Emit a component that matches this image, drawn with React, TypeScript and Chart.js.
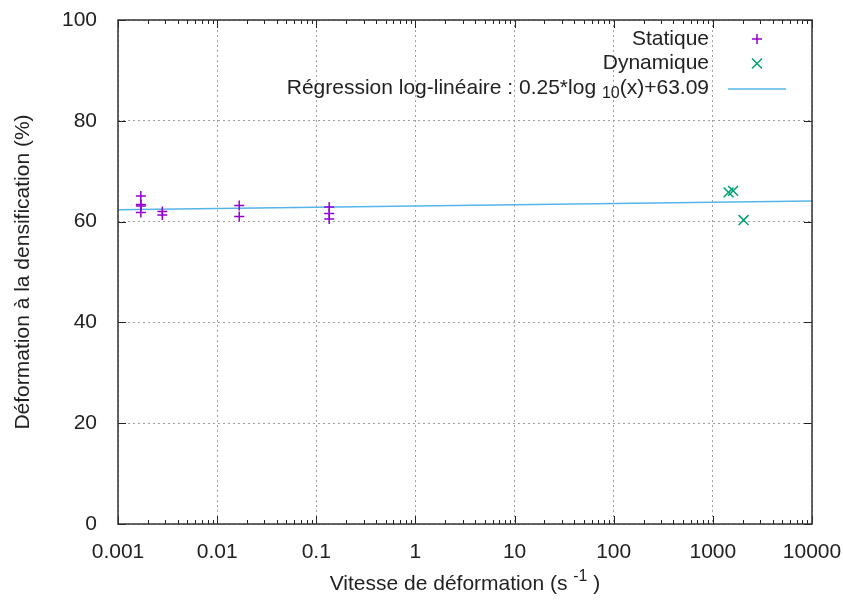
import React, { useEffect, useRef } from "react";
import { Chart, registerables } from "chart.js";
Chart.register(...registerables);

const statiqueX = [0.0017, 0.0017, 0.0017, 0.0017, 0.0028, 0.0028, 0.0167, 0.0167, 0.135, 0.135, 0.135];
const statiqueY = [65.1, 63.4, 63.1, 61.8, 62.0, 61.3, 63.2, 61.0, 62.9, 61.6, 60.5];
const dynamiqueX = [1440, 1600, 2040];
const dynamiqueY = [65.8, 66.1, 60.3];
const regressionX = [0.001, 10000];
const regressionY = [62.34, 64.09];
const xTickValues = [0.001, 0.01, 0.1, 1, 10, 100, 1000, 10000];
const xTickLabels = ["0.001", "0.01", "0.1", "1", "10", "100", "1000", "10000"];
const yTickValues = [0, 20, 40, 60, 80, 100];
const legendLabels = ["Statique", "Dynamique"];
const regressionLabelParts = ["Régression log-linéaire : 0.25*log ", "10", "(x)+63.09"];
const xTitleParts = ["Vitesse de déformation (s ", "-1", " )"];
const yTitle = "Déformation à la densification (%)";

const FONT = "'Liberation Sans', Arial, sans-serif";
const FS = 21;
const FSS = 16;
const TXT = "#222";
const C_STAT = "#9400d3";
const C_DYN = "#009e73";
const C_REG = "#56b4e9";

const decorPlugin = {
  id: "decor",
  afterDraw(chart: any) {
    const ctx = chart.ctx;
    const { left, right, top, bottom } = chart.chartArea;
    const xs = chart.scales.x;
    const ys = chart.scales.y;
    ctx.save();
    // ticks
    ctx.strokeStyle = "#222";
    ctx.lineWidth = 1;
    ctx.beginPath();
    for (const v of yTickValues) {
      const y = Math.round(ys.getPixelForValue(v)) + 0.5;
      ctx.moveTo(left, y); ctx.lineTo(left + 8, y);
      ctx.moveTo(right, y); ctx.lineTo(right - 8, y);
    }
    for (let i = 0; i < xTickValues.length; i++) {
      const v = xTickValues[i];
      const x = Math.round(xs.getPixelForValue(v)) + 0.5;
      ctx.moveTo(x, bottom); ctx.lineTo(x, bottom - 8);
      ctx.moveTo(x, top); ctx.lineTo(x, top + 8);
      if (i < xTickValues.length - 1) {
        for (let m = 2; m <= 9; m++) {
          const xm = Math.round(xs.getPixelForValue(v * m)) + 0.5;
          ctx.moveTo(xm, bottom); ctx.lineTo(xm, bottom - 4);
          ctx.moveTo(xm, top); ctx.lineTo(xm, top + 4);
        }
      }
    }
    ctx.stroke();
    // frame
    ctx.strokeStyle = "#333";
    ctx.lineWidth = 1.5;
    ctx.strokeRect(left, top, right - left, bottom - top);

    // legend
    ctx.fillStyle = TXT;
    ctx.textBaseline = "middle";
    ctx.font = FS + "px " + FONT;
    const tx = 709;
    const rows = [39, 63.5, 88];
    ctx.textAlign = "right";
    ctx.fillText(legendLabels[0], tx, rows[0]);
    ctx.fillText(legendLabels[1], tx, rows[1]);
    ctx.textAlign = "left";
    const wA = ctx.measureText(regressionLabelParts[0]).width;
    const wC = ctx.measureText(regressionLabelParts[2]).width;
    ctx.font = FSS + "px " + FONT;
    const wB = ctx.measureText(regressionLabelParts[1]).width;
    let sx = tx - (wA + wB + wC);
    ctx.font = FS + "px " + FONT;
    ctx.fillText(regressionLabelParts[0], sx, rows[2]);
    sx += wA;
    ctx.font = FSS + "px " + FONT;
    ctx.fillText(regressionLabelParts[1], sx, rows[2] + 6);
    sx += wB;
    ctx.font = FS + "px " + FONT;
    ctx.fillText(regressionLabelParts[2], sx, rows[2]);
    // legend samples
    const mx = 757;
    ctx.lineWidth = 1.5;
    ctx.strokeStyle = C_STAT;
    ctx.beginPath();
    ctx.moveTo(mx - 5, rows[0]); ctx.lineTo(mx + 5, rows[0]);
    ctx.moveTo(mx, rows[0] - 5); ctx.lineTo(mx, rows[0] + 5);
    ctx.stroke();
    ctx.strokeStyle = C_DYN;
    ctx.beginPath();
    ctx.moveTo(mx - 5, rows[1] - 5); ctx.lineTo(mx + 5, rows[1] + 5);
    ctx.moveTo(mx - 5, rows[1] + 5); ctx.lineTo(mx + 5, rows[1] - 5);
    ctx.stroke();
    ctx.strokeStyle = C_REG;
    ctx.beginPath();
    ctx.moveTo(728, rows[2] + 1); ctx.lineTo(786, rows[2] + 1);
    ctx.stroke();

    // x title
    ctx.fillStyle = TXT;
    ctx.font = FS + "px " + FONT;
    const a = ctx.measureText(xTitleParts[0]).width;
    const c = ctx.measureText(xTitleParts[2]).width;
    ctx.font = FSS + "px " + FONT;
    const b = ctx.measureText(xTitleParts[1]).width;
    let px = (left + right) / 2 - (a + b + c) / 2;
    const py = 584;
    ctx.font = FS + "px " + FONT;
    ctx.fillText(xTitleParts[0], px, py);
    px += a;
    ctx.font = FSS + "px " + FONT;
    ctx.fillText(xTitleParts[1], px, py - 7);
    px += b;
    ctx.font = FS + "px " + FONT;
    ctx.fillText(xTitleParts[2], px, py);

    // y title
    ctx.save();
    ctx.translate(23, (top + bottom) / 2);
    ctx.rotate(-Math.PI / 2);
    ctx.textAlign = "center";
    ctx.font = FS + "px " + FONT;
    ctx.fillText(yTitle, 0, 0);
    ctx.restore();
    ctx.restore();
  },
};

export default function App() {
  const ref = useRef<HTMLCanvasElement>(null);
  useEffect(() => {
    document.body.style.margin = "0";
    const canvas = ref.current!;
    const zeroPad = (s: any) => {
      s.paddingTop = 0;
      s.paddingBottom = 0;
      s.paddingLeft = 0;
      s.paddingRight = 0;
    };
    const chart = new Chart(canvas, {
      type: "scatter",
      data: {
        datasets: [
          {
            label: "Statique",
            data: statiqueX.map((x, i) => ({ x, y: statiqueY[i] })),
            pointStyle: "cross",
            pointRadius: 5,
            pointBorderWidth: 1.5,
            borderColor: C_STAT,
            backgroundColor: C_STAT,
          },
          {
            label: "Dynamique",
            data: dynamiqueX.map((x, i) => ({ x, y: dynamiqueY[i] })),
            pointStyle: "crossRot",
            pointRadius: 7,
            pointBorderWidth: 1.5,
            borderColor: C_DYN,
            backgroundColor: C_DYN,
          },
          {
            label: "Régression",
            data: regressionX.map((x, i) => ({ x, y: regressionY[i] })),
            showLine: true,
            pointRadius: 0,
            borderColor: C_REG,
            borderWidth: 1.5,
          },
        ],
      },
      options: {
        animation: false,
        responsive: false,
        devicePixelRatio: 1,
        layout: { padding: { left: 0, top: 20, right: 31, bottom: 0 } },
        plugins: { legend: { display: false }, tooltip: { enabled: false } },
        scales: {
          x: {
            type: "logarithmic",
            min: 0.001,
            max: 10000,
            afterBuildTicks: (s: any) => {
              s.ticks = xTickValues.map((v) => ({ value: v }));
            },
            afterFit: (s: any) => {
              s.height = 77;
              zeroPad(s);
            },
            ticks: {
              autoSkip: false,
              maxRotation: 0,
              padding: 16,
              color: TXT,
              font: { family: FONT, size: FS },
              callback: (v: any) => {
                const i = xTickValues.findIndex((t) => Math.abs(Math.log10(t) - Math.log10(v)) < 1e-6);
                return i >= 0 ? xTickLabels[i] : "";
              },
            },
            grid: { color: "#a0a0a0", lineWidth: 1, drawTicks: false },
            border: { display: false, dash: [2, 3] },
          },
          y: {
            min: 0,
            max: 100,
            afterBuildTicks: (s: any) => {
              s.ticks = yTickValues.map((v) => ({ value: v }));
            },
            afterFit: (s: any) => {
              s.width = 118;
              zeroPad(s);
            },
            ticks: {
              padding: 21,
              color: TXT,
              font: { family: FONT, size: FS },
            },
            grid: { color: "#a0a0a0", lineWidth: 1, drawTicks: false },
            border: { display: false, dash: [2, 3] },
          },
        },
      },
      plugins: [decorPlugin],
    } as any);
    return () => chart.destroy();
  }, []);
  return (
    <div style={{ position: "absolute", left: 0, top: 0 }}>
      <canvas ref={ref} width={843} height={601} style={{ width: 843, height: 601, display: "block" }} />
    </div>
  );
}
